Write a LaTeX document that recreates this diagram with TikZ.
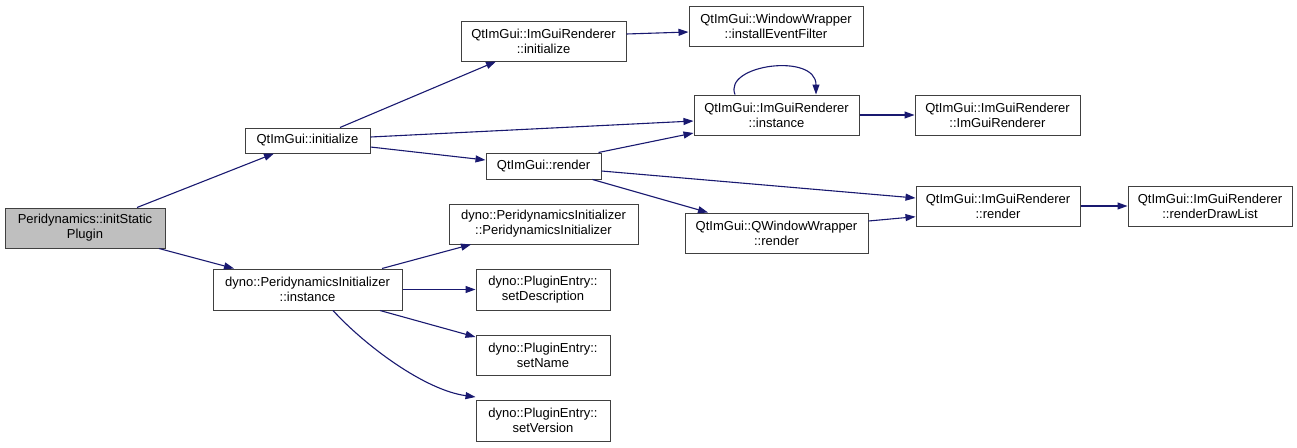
\documentclass[tikz,border=0pt]{standalone}
\usepackage{fontspec}
\setmainfont{Liberation Sans}
\usetikzlibrary{arrows.meta}
\definecolor{edgec}{HTML}{191970}
\definecolor{boxc}{HTML}{404040}
\definecolor{rootc}{HTML}{BFBFBF}
\begin{document}
\begin{tikzpicture}[x=1pt,y=-1pt,
  box/.style={draw=boxc, line width=1pt, fill=white, align=center, inner sep=0pt,
    font=\fontsize{13}{15}\selectfont},
  call/.style={draw=edgec, line width=1.1pt, -{Triangle[length=10pt,width=7pt]}}]
\useasboundingbox (0,0) rectangle (1297,447);
% nodes
\node[box, fill=rootc, minimum width=160, minimum height=40] (init) at (85,228) {Peridynamics::initStatic\\Plugin};
\node[box, minimum width=125, minimum height=25] (qinit) at (307.5,140.5) {QtImGui::initialize};
\node[box, minimum width=189, minimum height=41] (piinst) at (307.5,289.5) {dyno::PeridynamicsInitializer\\::instance};
\node[box, minimum width=165, minimum height=40] (rinit) at (543.5,41) {QtImGui::ImGuiRenderer\\::initialize};
\node[box, minimum width=174, minimum height=40] (install) at (776,26) {QtImGui::WindowWrapper\\::installEventFilter};
\node[box, minimum width=165, minimum height=40] (rinst) at (776.5,115) {QtImGui::ImGuiRenderer\\::instance};
\node[box, minimum width=165, minimum height=40] (rctor) at (997.5,115) {QtImGui::ImGuiRenderer\\::ImGuiRenderer};
\node[box, minimum width=115, minimum height=26] (qrender) at (543.5,166) {QtImGui::render};
\node[box, minimum width=183, minimum height=40] (qww) at (776.5,233) {QtImGui::QWindowWrapper\\::render};
\node[box, minimum width=164, minimum height=40] (rrender) at (998,206) {QtImGui::ImGuiRenderer\\::render};
\node[box, minimum width=164, minimum height=40] (rdraw) at (1210,206) {QtImGui::ImGuiRenderer\\::renderDrawList};
\node[box, minimum width=189, minimum height=40] (pipi) at (543.5,224) {dyno::PeridynamicsInitializer\\::PeridynamicsInitializer};
\node[box, minimum width=134, minimum height=41] (setdesc) at (543,289.5) {dyno::PluginEntry::\\setDescription};
\node[box, minimum width=134, minimum height=40] (setname) at (543,355) {dyno::PluginEntry::\\setName};
\node[box, minimum width=134, minimum height=41] (setver) at (543,420.5) {dyno::PluginEntry::\\setVersion};
% edges
\draw[call] ([xshift=52]init.north) -- ([xshift=-33.5]qinit.south);
\draw[call] ([xshift=74]init.south) -- ([xshift=-73.5]piinst.north);
\draw[call] ([xshift=32.5]qinit.north) -- ([xshift=-47.5]rinit.south);
\draw[call] ([yshift=3.5]qinit.east) -- ([yshift=-6]rinst.west);
\draw[call] ([yshift=-6.5]qinit.east) -- ([yshift=6]qrender.west);
\draw[call] ([yshift=7]rinit.east) -- ([yshift=-6]install.west);
\draw[call] ([xshift=-41.5]rinst.north) .. controls +(-12,-30) and +(0,-42) .. ([xshift=39.5]rinst.north);
\draw[call] (rinst.east) -- (rctor.west);
\draw[call] ([xshift=-3]qrender.north east) -- ([yshift=-18]rinst.west);
\draw[call] ([yshift=-5]qrender.east) -- ([yshift=8]rrender.west);
\draw[call] ([xshift=-9]qrender.south east) -- ([xshift=-68.5]qww.north);
\draw[call] ([yshift=12]qww.east) -- ([yshift=-10.7]rrender.west);
\draw[call] (rrender.east) -- (rdraw.west);
\draw[call] ([xshift=74.5]piinst.north) -- ([xshift=-72.5]pipi.south);
\draw[call] (piinst.east) -- (setdesc.west);
\draw[call] ([xshift=72.5]piinst.south) -- ([yshift=18]setname.west);
\draw[call] ([xshift=25.5]piinst.south) .. controls +(32,35) and +(-51,-7) .. ([yshift=23.5]setver.west);
\end{tikzpicture}
\end{document}
